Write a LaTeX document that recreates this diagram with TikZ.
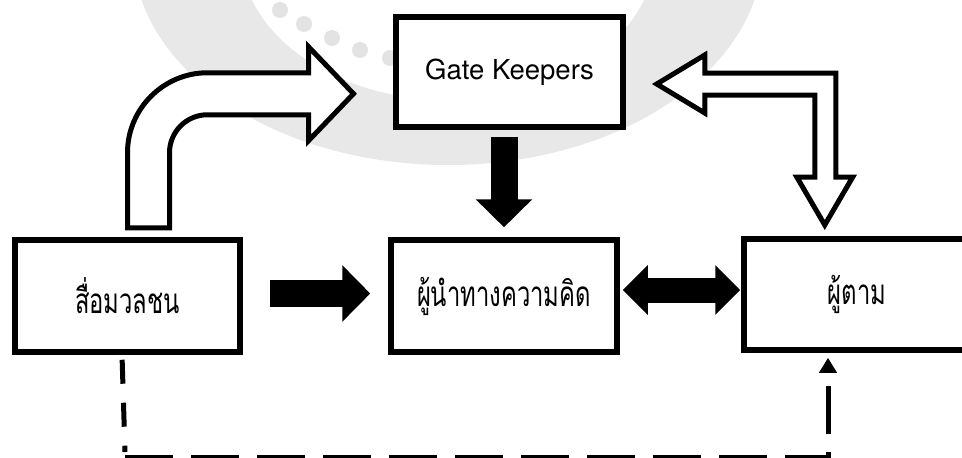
\documentclass[tikz,border=0pt]{standalone}
\usepackage{fontspec}
\setmainfont{TeX Gyre Heros}
\newfontfamily\thaifont[Script=Thai, FakeStretch=0.68]{Loma}
\usetikzlibrary{arrows.meta}

\begin{document}
\begin{tikzpicture}[x=1pt, y=-1pt,
    box/.style={draw, fill=white, line width=5.5pt, inner sep=0pt},
    thai/.style={font=\thaifont\fontsize{35}{42}\selectfont},
    hollow/.style={draw, fill=white, line width=5pt},
    fat/.style={line width=27pt, -{Triangle[width=55pt, length=28pt]}},
    dashline/.style={line width=5pt}]
            \useasboundingbox (0,0) rectangle (962,458);
            % faint seal behind everything
            \fill[black!9, even odd rule] (448,-50) ellipse[x radius=315, y radius=215] (448,-50) ellipse[x radius=208, y radius=150];
            \foreach \p in {(280,10), (304,24), (332,38), (360,50), (390,58)} \fill[black!11] \p circle[radius=8];

            \node[box, minimum width=227pt, minimum height=110pt, font=\fontsize{27.5}{33}\selectfont] (gate) at (509.5,72) {Gate Keepers};
            \node[box, thai, minimum width=225pt, minimum height=112pt] (media) at (127.5,296) {สื่อมวลชน};
            \node[box, thai, minimum width=226pt, minimum height=112pt] (leader) at (504,296) {ผู้นำทางความคิด};
            % runs past the right edge of the page
            \node[box, thai, minimum width=226pt, minimum height=111pt] (follow) at (857,294.5) {ผู้ตาม};

            % bent outline arrow, media -> gate keepers
            \begin{scope}[shift={([yshift=9.5pt]media.north)}]
            \path[hollow] (0,0) -- (0,-75) .. controls (0,-119) and (36,-155) .. (80,-155) -- (181,-155) -- (181,-181) -- (226,-134)
                -- (181,-87) -- (181,-113) -- (80,-113) .. controls (59,-113) and (42,-96) .. (42,-75) -- (42,0) -- cycle;
            \end{scope}
            % two-way outline arrow, gate keepers <-> followers
            \begin{scope}[shift={(gate.east)}]
            \path[hollow] (31,12) -- (79,-17) -- (79,1) -- (210,1) -- (210,105) -- (227,105) -- (199,153) -- (171,105)
                -- (189,105) -- (189,23) -- (79,23) -- (79,41) -- cycle;
            \end{scope}

            \draw[fat, shorten <=27pt, shorten >=18pt] ([yshift=2.5pt]media.east) -- ([yshift=2.5pt]leader.west);
            \draw[fat, shorten <=7pt, shorten >=10pt] (leader.north |- gate.south) -- (leader.north);
            \coordinate (mid) at ([yshift=6pt]leader.east);
            \draw[line width=25pt, {Triangle[width=48pt, length=25pt]}-{Triangle[width=48pt, length=25pt]}, shorten <=3pt, shorten >=1pt] (mid) -- (mid -| follow.west);

            % dashed link along the bottom
            \coordinate (bendL) at (125,457);
            \coordinate (bendR) at (828,457);
            \draw[dashline, dash pattern=on 24pt off 19pt, shorten <=5pt] ([xshift=-5.5pt]media.south) -- ([yshift=5pt]bendL);
            \draw[dashline, dash pattern=on 48pt off 18pt, -{Triangle[width=17pt, length=15pt]}, shorten >=5pt] (bendL) -- (bendR) -- (bendR |- follow.south);
\end{tikzpicture}
\end{document}
